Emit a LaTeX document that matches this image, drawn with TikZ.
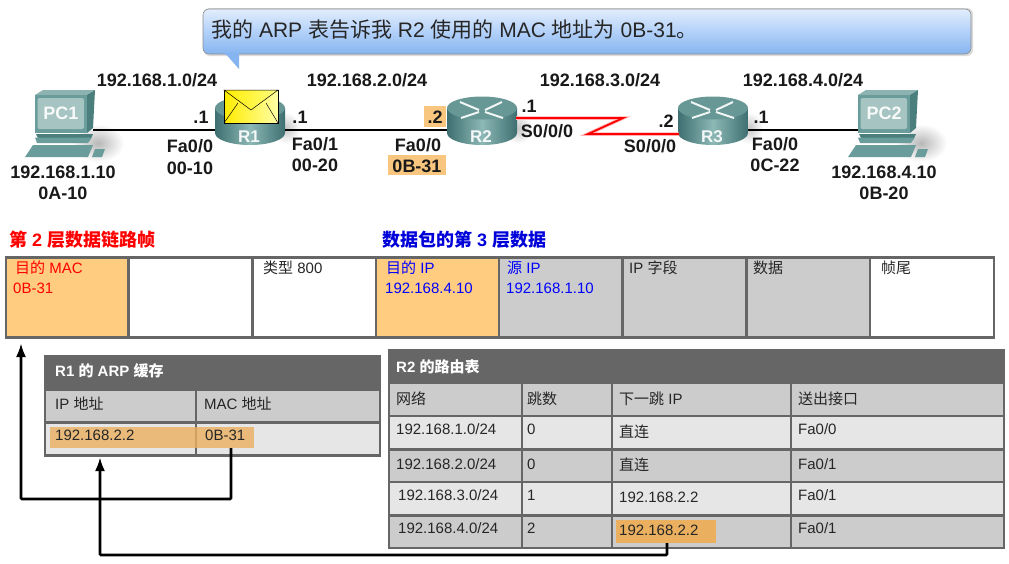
\documentclass[tikz,border=0pt]{standalone}
\usepackage{fontspec}
\usetikzlibrary{arrows.meta}
\setmainfont{Liberation Sans}
\newfontfamily\cjk{Noto Sans CJK SC}
\tikzset{
  lbl/.style={inner sep=0,text height=12pt,text depth=0pt,font=\fontsize{18}{18}\selectfont\bfseries},
  tbl/.style={anchor=west,inner sep=0,text height=10pt,text depth=0pt,font=\fontsize{15}{15}\selectfont},
  head/.style={anchor=west,inner sep=0,text height=10pt,text depth=0pt,text=white,font=\fontsize{15}{15}\selectfont\bfseries},
  title/.style={anchor=west,inner sep=0,text height=11pt,text depth=0pt,font=\fontsize{18}{18}\selectfont\bfseries},
  icon/.style={inner sep=0,minimum height=0pt},
  link/.style={line width=2.8pt,black},
  path back/.style={line width=2.8pt,black,-{Latex[length=14pt,width=10pt]},rounded corners=1pt}
}
% router at x, with the wire level at y=130
\newcommand{\routericon}[2]{
  \begin{scope}[shift={(#1,0)}]
    \shade [inner color=black!22,outer color=white] (36,128) ellipse (14 and 16);
    \path [left color=routerdark,right color=routerdark,middle color=routerlight]
      (-35,108) -- (-35,133) arc (180:0:35 and 12) -- (35,108) -- cycle;
    \fill [routertop] (0,108) ellipse (35 and 11.5);
    \draw [white!90!routertop,line width=2pt] (-22,102) -- (-3,110);
    \draw [white!90!routertop,line width=2pt] (20,102) -- (3,110);
    \draw [white!90!routertop,line width=2pt] (-21,118) -- (-3,112);
    \draw [white!90!routertop,line width=2pt] (21,118) -- (3,112);
    \node [lbl,text=white!92!routertop,font=\fontsize{17}{17}\selectfont\bfseries] at (-1,136) (#2lab) {#2};
    \node [icon,minimum width=70pt] (#2) at (0,130) {};
  \end{scope}
}
% computer, drawn for x=0 as PC1
\newcommand{\pcicon}[2]{
  \begin{scope}[shift={(#1,0)}]
    \shade [inner color=black!28,outer color=white] (98,143) ellipse (26 and 19);
    \fill [pclight] (35,95) -- (43,90) -- (95,90) -- (87,95) -- cycle;
    \fill [pcdark] (87,95) -- (95,90) -- (93,128) -- (87,133) -- cycle;
    \fill [pcmid] (35,95) rectangle (87,133);
    \fill [pcscreen,rounded corners=2pt] (37.5,98) rectangle (84,129);
    \fill [pcdark] (36,134) -- (93,134) -- (91,138) -- (38,138) -- cycle;
    \fill [pcmid] (35,137.5) -- (92,137.5) -- (88,143) -- (37,143) -- cycle;
    \fill [pcmid] (33,145) -- (93,145) -- (88,157) -- (25,157) -- cycle;
    \fill [pcmid] (95,149) -- (105,149) -- (102,157) -- (92,157) -- cycle;
    \node [lbl,text=white!92!pcscreen] at (61,113) (#2lab) {#2};
    \node [icon,minimum width=58pt] (#2) at (64,130) {};
  \end{scope}
}
\begin{document}
\begin{tikzpicture}[x=1pt,y=-1pt]
  \definecolor{routerdark}{HTML}{3E6F70}
  \definecolor{routerlight}{HTML}{8CB8B6}
  \definecolor{routertop}{HTML}{689896}
  \definecolor{pclight}{HTML}{8DB3B1}
  \definecolor{pcmid}{HTML}{6A9C9B}
  \definecolor{pcdark}{HTML}{4A7F7E}
  \definecolor{pcscreen}{HTML}{A5C4C2}
  \definecolor{hilite}{HTML}{F8C67E}
  \definecolor{hilitedark}{HTML}{EAB060}
  \definecolor{framegray}{HTML}{666666}
  \definecolor{cellorange}{HTML}{FFCC80}
  \definecolor{cellgray}{HTML}{CCCCCC}
  \definecolor{celllight}{HTML}{E6E6E6}
  \definecolor{blubbletop}{HTML}{E2EDFC}
  \definecolor{blubblemid}{HTML}{B3D1F9}
  \definecolor{blubblebot}{HTML}{86B4F0}
  \useasboundingbox (0,0) rectangle (1009,563);
  \fill [white] (0,0) rectangle (1009,563);

  % speech bubble
  \fill [black!14,rounded corners=6pt] (204,8) rectangle (973,56);
  \fill [blubblebot] (224,52) -- (239,69) -- (239,52) -- cycle;
  \node [inner sep=0,minimum width=768pt,minimum height=45pt,rounded corners=6pt,draw=black!45,line width=0.6pt,
    top color=blubbletop,bottom color=blubblebot,middle color=blubblemid] (bubble) at (587,31.5) {};
  \fill [blubblebot] (224.5,53) rectangle (238.6,55);
  \node [anchor=west,inner sep=0,text height=13pt,text depth=0pt,font=\fontsize{21}{21}\selectfont,text=black!85]
    (bubbletext) at (211,31) {{\cjk 我的} ARP {\cjk 表告诉我} R2 {\cjk 使用的} MAC {\cjk 地址为} 0B-31{\cjk 。}};

  % devices
  \routericon{250}{R1}
  \routericon{482}{R2}
  \routericon{713}{R3}
  \pcicon{0}{PC1}
  \pcicon{823}{PC2}

  % links
  \coordinate (R2s) at (516,118);
  \coordinate (zigA) at (623,118);
  \coordinate (zigB) at (588,134);
  \coordinate (R3s) at (679,134);
  \draw [red!30,line width=3.5pt] (R2s) -- (zigA) -- (zigB) -- (R3s);
  \draw [red,line width=1.8pt] (R2s) -- (zigA) -- (zigB) -- (R3s);
  \draw [link] (PC1) -- (R1);
  \draw [link] (R1) -- (R2);
  \draw [link] (R3) -- (PC2);

  % envelope on R1
  \shade [left color=yellow!85!orange,right color=yellow!35,draw=black,line width=0.5pt]
    (224,90) rectangle (278,123);
  \shade [left color=yellow!85!orange,right color=yellow!50,draw=black,line width=0.5pt]
    (224,90) -- (251,110) -- (278,90) -- cycle;
  \draw [black,line width=0.5pt] (224,123) -- (238,103);
  \draw [black,line width=0.5pt] (278,123) -- (266,103);

  % address labels
  \fill [hilite] (424,106) rectangle (446,127);
  \fill [hilite] (388,155) rectangle (446,175);
  \foreach \lx/\ly/\txt [count=\n] in {
    157/80/{192.168.1.0/24}, 367/80/{192.168.2.0/24}, 600/80/{192.168.3.0/24}, 803/80/{192.168.4.0/24},
    201/117/{.1}, 190/146/{Fa0/0}, 190/168/{00-10}, 63/172/{192.168.1.10}, 63/193/{0A-10},
    300/117/{.1}, 315/144/{Fa0/1}, 315/165/{00-20},
    435/117/{.2}, 418/145/{Fa0/0}, 417/166/{0B-31},
    529/106/{.1}, 547/131/{S0/0/0}, 650/146/{S0/0/0}, 666/121/{.2},
    761/117/{.1}, 775/144/{Fa0/0}, 775/165/{0C-22}, 884/172/{192.168.4.10}, 884/193/{0B-20}}
    \node [lbl,text=black!90] (addr\n) at (\lx,\ly) {\txt};

  % frame
  \node [title,text=red] (frametitle) at (9,241) {{\cjk 第} 2 {\cjk 层数据链路帧}};
  \node [title,text=blue!85!black] (packettitle) at (382,241) {{\cjk 数据包的第} 3 {\cjk 层数据}};
  \fill [framegray] (5,256) rectangle (995,338.5);
  \foreach \xa/\xb/\col in {7/127/cellorange, 129.5/251/white, 253.5/374.5/white, 377/497.5/cellorange,
    500/621/cellgray, 623.5/745/cellgray, 747.5/868.5/cellgray, 871/993/white}
    \fill [\col] (\xa,258.5) rectangle (\xb,336);
  \foreach \lx/\ly/\col/\txt [count=\n] in {
    15/268/red/{{\cjk 目的} MAC}, 13/288/red/{0B-31},
    263/268/black!85/{{\cjk 类型} 800},
    386/268/blue/{{\cjk 目的} IP}, 385/288/blue/{192.168.4.10},
    507/268/blue/{{\cjk 源} IP}, 506/288/blue/{192.168.1.10},
    629/268/black!85/{IP {\cjk 字段}}, 753/268/black!85/{\cjk 数据}, 881/268/black!85/{\cjk 帧尾}}
    \node [tbl,text=\col] (frametxt\n) at (\lx,\ly) {\txt};

  % ARP table
  \fill [framegray] (44,354.5) rectangle (381,456.5);
  \foreach \xa/\xb in {46/194.5, 197/379} {
    \fill [cellgray] (\xa,390.5) rectangle (\xb,420.5);
    \fill [celllight] (\xa,423.5) rectangle (\xb,454);
  }
  \node [inner sep=0,minimum width=204pt,minimum height=21pt,fill=hilitedark,fill opacity=0.8] (hlarp) at (152,437.5) {};
  \node [head] (arptitle) at (55,371) {R1 {\cjk 的} ARP {\cjk 缓存}};
  \node [tbl,text=black!85] (arphA) at (55,404) {IP {\cjk 地址}};
  \node [tbl,text=black!85] (arphB) at (204,404) {MAC {\cjk 地址}};
  \node [tbl,text=black!85] (arpip) at (55,435) {192.168.2.2};
  \node [tbl,text=black!85] (arpmac) at (205,435) {0B-31};

  % routing table
  \fill [framegray] (388,349) rectangle (1005,548.5);
  \foreach \ya/\yb/\col in {384/414.5/cellgray, 417/447.5/celllight, 450.5/480.5/cellgray, 483/513.5/celllight, 516.5/546.5/cellgray}
    \foreach \xa/\xb in {390/520.5, 523/610.5, 613/789.5, 792/1003}
      \fill [\col] (\xa,\ya) rectangle (\xb,\yb);
  \node [inner sep=0,minimum width=100pt,minimum height=23pt,fill=hilitedark] (hlroute) at (666,531.5) {};
  \node [head] (routetitle) at (396,367) {R2 {\cjk 的路由表}};
  \foreach \lx/\ly/\txt [count=\n] in {
    396/399/{\cjk 网络}, 527/399/{\cjk 跳数}, 619/399/{{\cjk 下一跳} IP}, 798/399/{\cjk 送出接口},
    396/429/{192.168.1.0/24}, 527/429/{0}, 619/432/{\cjk 直连}, 798/429/{Fa0/0},
    396/464/{192.168.2.0/24}, 527/464/{0}, 619/465/{\cjk 直连}, 798/464/{Fa0/1},
    398/495/{192.168.3.0/24}, 527/495/{1}, 619/497/{192.168.2.2}, 798/495/{Fa0/1},
    398/528/{192.168.4.0/24}, 527/528/{2}, 619/530/{192.168.2.2}, 798/528/{Fa0/1}}
    \node [tbl,text=black!85] (routetxt\n) at (\lx,\ly) {\txt};

  % paths
  \coordinate (macout) at (231,448);
  \coordinate (macin) at (21,343);
  \coordinate (ipout) at (667,543);
  \coordinate (ipin) at (100,457);
  \coordinate (macturn) at (231,499);
  \coordinate (ipturn) at (667,555);
  \draw [path back] (macout) -- (macturn) -| (macin);
  \draw [path back] (ipout) -- (ipturn) -| (ipin);
\end{tikzpicture}
\end{document}
